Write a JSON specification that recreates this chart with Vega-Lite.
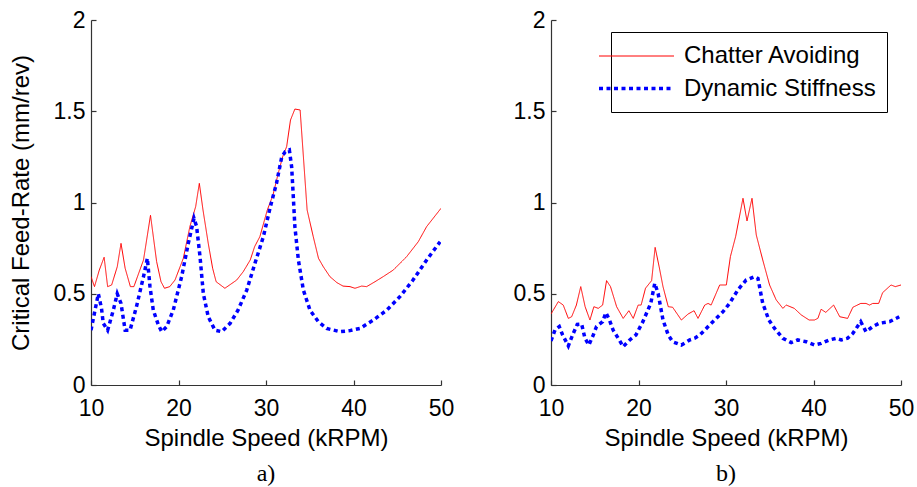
{
  "$schema": "https://vega.github.io/schema/vega-lite/v6.json",
  "background": "white",
  "padding": {"left": 9, "top": 9, "right": 5, "bottom": 0},
  "config": {
    "font": "Liberation Sans",
    "view": {"stroke": null},
    "axis": {"domainColor": "#333333", "domainWidth": 1.2, "tickColor": "#333333", "tickWidth": 1.2, "tickSize": -5, "grid": false, "labelFont": "Liberation Sans", "labelFontSize": 23, "labelColor": "black", "titleFont": "Liberation Sans", "titleFontSize": 24, "titleFontWeight": "normal", "titleColor": "black", "labelFlush": false},
    "axisX": {"labelPadding": 17, "titlePadding": 6},
    "axisY": {"labelPadding": 11, "titlePadding": 20},
    "legend": {"orient": "none", "legendX": 60, "legendY": 12, "title": null, "symbolType": "M-3,0H3", "symbolSize": 625, "labelFontSize": 24, "labelFont": "Liberation Sans", "labelColor": "black", "labelLimit": 400, "strokeColor": "black", "fillColor": "white", "padding": 11, "labelOffset": 33, "rowPadding": 6},
    "title": {"font": "Liberation Serif", "fontSize": 24, "fontWeight": "normal", "color": "black", "orient": "bottom"}
  },
  "datasets": {
    "d": [
      {"p":"a","s":"Chatter Avoiding","x":10,"y":0.594},{"p":"a","s":"Chatter Avoiding","x":10.4,"y":0.539},{"p":"a","s":"Chatter Avoiding","x":10.95,"y":0.63},{"p":"a","s":"Chatter Avoiding","x":11.5,"y":0.70},{"p":"a","s":"Chatter Avoiding","x":11.9,"y":0.539},{"p":"a","s":"Chatter Avoiding","x":12.36,"y":0.548},{"p":"a","s":"Chatter Avoiding","x":13.0,"y":0.648},{"p":"a","s":"Chatter Avoiding","x":13.43,"y":0.776},{"p":"a","s":"Chatter Avoiding","x":13.9,"y":0.64},{"p":"a","s":"Chatter Avoiding","x":14.5,"y":0.539},{"p":"a","s":"Chatter Avoiding","x":14.9,"y":0.539},{"p":"a","s":"Chatter Avoiding","x":16.0,"y":0.685},{"p":"a","s":"Chatter Avoiding","x":16.8,"y":0.93},{"p":"a","s":"Chatter Avoiding","x":17.5,"y":0.676},{"p":"a","s":"Chatter Avoiding","x":18.0,"y":0.566},{"p":"a","s":"Chatter Avoiding","x":18.4,"y":0.53},{"p":"a","s":"Chatter Avoiding","x":19.0,"y":0.539},{"p":"a","s":"Chatter Avoiding","x":19.6,"y":0.575},{"p":"a","s":"Chatter Avoiding","x":20.55,"y":0.694},{"p":"a","s":"Chatter Avoiding","x":21.3,"y":0.868},{"p":"a","s":"Chatter Avoiding","x":21.96,"y":0.977},{"p":"a","s":"Chatter Avoiding","x":22.38,"y":1.105},{"p":"a","s":"Chatter Avoiding","x":22.8,"y":0.959},{"p":"a","s":"Chatter Avoiding","x":23.4,"y":0.776},{"p":"a","s":"Chatter Avoiding","x":23.9,"y":0.64},{"p":"a","s":"Chatter Avoiding","x":24.3,"y":0.566},{"p":"a","s":"Chatter Avoiding","x":25.3,"y":0.53},{"p":"a","s":"Chatter Avoiding","x":26.65,"y":0.575},{"p":"a","s":"Chatter Avoiding","x":27.4,"y":0.621},{"p":"a","s":"Chatter Avoiding","x":28.2,"y":0.685},{"p":"a","s":"Chatter Avoiding","x":28.7,"y":0.758},{"p":"a","s":"Chatter Avoiding","x":29.3,"y":0.813},{"p":"a","s":"Chatter Avoiding","x":30.15,"y":0.959},{"p":"a","s":"Chatter Avoiding","x":30.8,"y":1.041},{"p":"a","s":"Chatter Avoiding","x":31.4,"y":1.16},{"p":"a","s":"Chatter Avoiding","x":31.9,"y":1.25},{"p":"a","s":"Chatter Avoiding","x":32.36,"y":1.306},{"p":"a","s":"Chatter Avoiding","x":32.8,"y":1.452},{"p":"a","s":"Chatter Avoiding","x":33.3,"y":1.512},{"p":"a","s":"Chatter Avoiding","x":33.9,"y":1.507},{"p":"a","s":"Chatter Avoiding","x":34.3,"y":1.233},{"p":"a","s":"Chatter Avoiding","x":34.7,"y":0.959},{"p":"a","s":"Chatter Avoiding","x":35.4,"y":0.813},{"p":"a","s":"Chatter Avoiding","x":36.0,"y":0.694},{"p":"a","s":"Chatter Avoiding","x":36.55,"y":0.648},{"p":"a","s":"Chatter Avoiding","x":37.3,"y":0.594},{"p":"a","s":"Chatter Avoiding","x":38.1,"y":0.561},{"p":"a","s":"Chatter Avoiding","x":38.8,"y":0.542},{"p":"a","s":"Chatter Avoiding","x":39.6,"y":0.539},{"p":"a","s":"Chatter Avoiding","x":40.17,"y":0.53},{"p":"a","s":"Chatter Avoiding","x":40.93,"y":0.542},{"p":"a","s":"Chatter Avoiding","x":41.5,"y":0.539},{"p":"a","s":"Chatter Avoiding","x":42.46,"y":0.566},{"p":"a","s":"Chatter Avoiding","x":43.4,"y":0.594},{"p":"a","s":"Chatter Avoiding","x":44.55,"y":0.63},{"p":"a","s":"Chatter Avoiding","x":46.07,"y":0.703},{"p":"a","s":"Chatter Avoiding","x":47.4,"y":0.785},{"p":"a","s":"Chatter Avoiding","x":48.36,"y":0.868},{"p":"a","s":"Chatter Avoiding","x":50,"y":0.968},
      {"p":"a","s":"Dynamic Stiffness","x":10,"y":0.30},{"p":"a","s":"Dynamic Stiffness","x":10.46,"y":0.41},{"p":"a","s":"Dynamic Stiffness","x":10.84,"y":0.50},{"p":"a","s":"Dynamic Stiffness","x":11.2,"y":0.42},{"p":"a","s":"Dynamic Stiffness","x":11.4,"y":0.338},{"p":"a","s":"Dynamic Stiffness","x":11.9,"y":0.30},{"p":"a","s":"Dynamic Stiffness","x":12.55,"y":0.41},{"p":"a","s":"Dynamic Stiffness","x":13.0,"y":0.50},{"p":"a","s":"Dynamic Stiffness","x":13.43,"y":0.447},{"p":"a","s":"Dynamic Stiffness","x":13.9,"y":0.30},{"p":"a","s":"Dynamic Stiffness","x":14.46,"y":0.30},{"p":"a","s":"Dynamic Stiffness","x":15.2,"y":0.43},{"p":"a","s":"Dynamic Stiffness","x":16.0,"y":0.594},{"p":"a","s":"Dynamic Stiffness","x":16.44,"y":0.694},{"p":"a","s":"Dynamic Stiffness","x":16.74,"y":0.539},{"p":"a","s":"Dynamic Stiffness","x":17.12,"y":0.41},{"p":"a","s":"Dynamic Stiffness","x":17.7,"y":0.329},{"p":"a","s":"Dynamic Stiffness","x":18.08,"y":0.292},{"p":"a","s":"Dynamic Stiffness","x":18.65,"y":0.32},{"p":"a","s":"Dynamic Stiffness","x":19.4,"y":0.41},{"p":"a","s":"Dynamic Stiffness","x":20.36,"y":0.594},{"p":"a","s":"Dynamic Stiffness","x":21.12,"y":0.776},{"p":"a","s":"Dynamic Stiffness","x":21.77,"y":0.913},{"p":"a","s":"Dynamic Stiffness","x":22.07,"y":0.868},{"p":"a","s":"Dynamic Stiffness","x":22.46,"y":0.703},{"p":"a","s":"Dynamic Stiffness","x":22.84,"y":0.50},{"p":"a","s":"Dynamic Stiffness","x":23.4,"y":0.374},{"p":"a","s":"Dynamic Stiffness","x":24.17,"y":0.30},{"p":"a","s":"Dynamic Stiffness","x":24.93,"y":0.292},{"p":"a","s":"Dynamic Stiffness","x":25.9,"y":0.338},{"p":"a","s":"Dynamic Stiffness","x":26.8,"y":0.41},{"p":"a","s":"Dynamic Stiffness","x":27.8,"y":0.52},{"p":"a","s":"Dynamic Stiffness","x":28.74,"y":0.667},{"p":"a","s":"Dynamic Stiffness","x":29.7,"y":0.813},{"p":"a","s":"Dynamic Stiffness","x":30.5,"y":0.977},{"p":"a","s":"Dynamic Stiffness","x":31.2,"y":1.105},{"p":"a","s":"Dynamic Stiffness","x":31.8,"y":1.25},{"p":"a","s":"Dynamic Stiffness","x":32.2,"y":1.278},{"p":"a","s":"Dynamic Stiffness","x":32.67,"y":1.288},{"p":"a","s":"Dynamic Stiffness","x":32.93,"y":1.196},{"p":"a","s":"Dynamic Stiffness","x":33.1,"y":1.05},{"p":"a","s":"Dynamic Stiffness","x":33.3,"y":0.868},{"p":"a","s":"Dynamic Stiffness","x":33.7,"y":0.685},{"p":"a","s":"Dynamic Stiffness","x":34.27,"y":0.52},{"p":"a","s":"Dynamic Stiffness","x":35.03,"y":0.41},{"p":"a","s":"Dynamic Stiffness","x":35.98,"y":0.347},{"p":"a","s":"Dynamic Stiffness","x":36.93,"y":0.31},{"p":"a","s":"Dynamic Stiffness","x":38.46,"y":0.292},{"p":"a","s":"Dynamic Stiffness","x":39.6,"y":0.298},{"p":"a","s":"Dynamic Stiffness","x":40.74,"y":0.31},{"p":"a","s":"Dynamic Stiffness","x":42.27,"y":0.356},{"p":"a","s":"Dynamic Stiffness","x":43.8,"y":0.41},{"p":"a","s":"Dynamic Stiffness","x":45.3,"y":0.484},{"p":"a","s":"Dynamic Stiffness","x":46.8,"y":0.575},{"p":"a","s":"Dynamic Stiffness","x":48.36,"y":0.685},{"p":"a","s":"Dynamic Stiffness","x":49.9,"y":0.785},
      {"p":"b","s":"Chatter Avoiding","x":10,"y":0.389},{"p":"b","s":"Chatter Avoiding","x":10.84,"y":0.457},{"p":"b","s":"Chatter Avoiding","x":11.4,"y":0.438},{"p":"b","s":"Chatter Avoiding","x":11.98,"y":0.365},{"p":"b","s":"Chatter Avoiding","x":12.36,"y":0.374},{"p":"b","s":"Chatter Avoiding","x":12.9,"y":0.438},{"p":"b","s":"Chatter Avoiding","x":13.4,"y":0.539},{"p":"b","s":"Chatter Avoiding","x":13.9,"y":0.429},{"p":"b","s":"Chatter Avoiding","x":14.45,"y":0.356},{"p":"b","s":"Chatter Avoiding","x":14.9,"y":0.429},{"p":"b","s":"Chatter Avoiding","x":15.4,"y":0.42},{"p":"b","s":"Chatter Avoiding","x":15.9,"y":0.438},{"p":"b","s":"Chatter Avoiding","x":16.35,"y":0.572},{"p":"b","s":"Chatter Avoiding","x":16.8,"y":0.539},{"p":"b","s":"Chatter Avoiding","x":17.5,"y":0.429},{"p":"b","s":"Chatter Avoiding","x":18.25,"y":0.365},{"p":"b","s":"Chatter Avoiding","x":18.9,"y":0.407},{"p":"b","s":"Chatter Avoiding","x":19.4,"y":0.365},{"p":"b","s":"Chatter Avoiding","x":19.96,"y":0.438},{"p":"b","s":"Chatter Avoiding","x":20.3,"y":0.438},{"p":"b","s":"Chatter Avoiding","x":20.8,"y":0.53},{"p":"b","s":"Chatter Avoiding","x":21.5,"y":0.572},{"p":"b","s":"Chatter Avoiding","x":21.9,"y":0.754},{"p":"b","s":"Chatter Avoiding","x":22.36,"y":0.648},{"p":"b","s":"Chatter Avoiding","x":22.8,"y":0.539},{"p":"b","s":"Chatter Avoiding","x":23.4,"y":0.429},{"p":"b","s":"Chatter Avoiding","x":23.9,"y":0.426},{"p":"b","s":"Chatter Avoiding","x":24.9,"y":0.356},{"p":"b","s":"Chatter Avoiding","x":25.67,"y":0.389},{"p":"b","s":"Chatter Avoiding","x":26.35,"y":0.407},{"p":"b","s":"Chatter Avoiding","x":26.8,"y":0.365},{"p":"b","s":"Chatter Avoiding","x":27.57,"y":0.438},{"p":"b","s":"Chatter Avoiding","x":27.95,"y":0.447},{"p":"b","s":"Chatter Avoiding","x":28.3,"y":0.438},{"p":"b","s":"Chatter Avoiding","x":29.28,"y":0.548},{"p":"b","s":"Chatter Avoiding","x":30.04,"y":0.548},{"p":"b","s":"Chatter Avoiding","x":30.5,"y":0.703},{"p":"b","s":"Chatter Avoiding","x":31.1,"y":0.813},{"p":"b","s":"Chatter Avoiding","x":31.94,"y":1.023},{"p":"b","s":"Chatter Avoiding","x":32.4,"y":0.899},{"p":"b","s":"Chatter Avoiding","x":32.97,"y":1.023},{"p":"b","s":"Chatter Avoiding","x":33.46,"y":0.822},{"p":"b","s":"Chatter Avoiding","x":34.2,"y":0.685},{"p":"b","s":"Chatter Avoiding","x":34.98,"y":0.548},{"p":"b","s":"Chatter Avoiding","x":35.74,"y":0.466},{"p":"b","s":"Chatter Avoiding","x":36.5,"y":0.42},{"p":"b","s":"Chatter Avoiding","x":36.88,"y":0.438},{"p":"b","s":"Chatter Avoiding","x":37.8,"y":0.42},{"p":"b","s":"Chatter Avoiding","x":38.6,"y":0.384},{"p":"b","s":"Chatter Avoiding","x":39.5,"y":0.356},{"p":"b","s":"Chatter Avoiding","x":40.1,"y":0.356},{"p":"b","s":"Chatter Avoiding","x":40.5,"y":0.365},{"p":"b","s":"Chatter Avoiding","x":40.87,"y":0.415},{"p":"b","s":"Chatter Avoiding","x":41.4,"y":0.398},{"p":"b","s":"Chatter Avoiding","x":42.3,"y":0.438},{"p":"b","s":"Chatter Avoiding","x":43.0,"y":0.374},{"p":"b","s":"Chatter Avoiding","x":43.9,"y":0.365},{"p":"b","s":"Chatter Avoiding","x":44.5,"y":0.426},{"p":"b","s":"Chatter Avoiding","x":45.4,"y":0.447},{"p":"b","s":"Chatter Avoiding","x":46.0,"y":0.447},{"p":"b","s":"Chatter Avoiding","x":46.4,"y":0.438},{"p":"b","s":"Chatter Avoiding","x":46.77,"y":0.447},{"p":"b","s":"Chatter Avoiding","x":47.45,"y":0.447},{"p":"b","s":"Chatter Avoiding","x":47.9,"y":0.506},{"p":"b","s":"Chatter Avoiding","x":48.86,"y":0.548},{"p":"b","s":"Chatter Avoiding","x":49.35,"y":0.539},{"p":"b","s":"Chatter Avoiding","x":50,"y":0.548},
      {"p":"b","s":"Dynamic Stiffness","x":10,"y":0.241},{"p":"b","s":"Dynamic Stiffness","x":10.46,"y":0.301},{"p":"b","s":"Dynamic Stiffness","x":10.95,"y":0.32},{"p":"b","s":"Dynamic Stiffness","x":11.33,"y":0.274},{"p":"b","s":"Dynamic Stiffness","x":11.98,"y":0.214},{"p":"b","s":"Dynamic Stiffness","x":12.47,"y":0.274},{"p":"b","s":"Dynamic Stiffness","x":13.0,"y":0.332},{"p":"b","s":"Dynamic Stiffness","x":13.5,"y":0.334},{"p":"b","s":"Dynamic Stiffness","x":13.88,"y":0.256},{"p":"b","s":"Dynamic Stiffness","x":14.33,"y":0.219},{"p":"b","s":"Dynamic Stiffness","x":14.83,"y":0.274},{"p":"b","s":"Dynamic Stiffness","x":15.2,"y":0.32},{"p":"b","s":"Dynamic Stiffness","x":15.9,"y":0.347},{"p":"b","s":"Dynamic Stiffness","x":16.27,"y":0.396},{"p":"b","s":"Dynamic Stiffness","x":16.65,"y":0.36},{"p":"b","s":"Dynamic Stiffness","x":17.1,"y":0.301},{"p":"b","s":"Dynamic Stiffness","x":17.8,"y":0.247},{"p":"b","s":"Dynamic Stiffness","x":18.25,"y":0.21},{"p":"b","s":"Dynamic Stiffness","x":19.0,"y":0.247},{"p":"b","s":"Dynamic Stiffness","x":19.7,"y":0.274},{"p":"b","s":"Dynamic Stiffness","x":20.5,"y":0.347},{"p":"b","s":"Dynamic Stiffness","x":21.4,"y":0.447},{"p":"b","s":"Dynamic Stiffness","x":21.86,"y":0.557},{"p":"b","s":"Dynamic Stiffness","x":22.24,"y":0.502},{"p":"b","s":"Dynamic Stiffness","x":22.8,"y":0.356},{"p":"b","s":"Dynamic Stiffness","x":23.4,"y":0.274},{"p":"b","s":"Dynamic Stiffness","x":23.9,"y":0.237},{"p":"b","s":"Dynamic Stiffness","x":24.9,"y":0.219},{"p":"b","s":"Dynamic Stiffness","x":25.86,"y":0.247},{"p":"b","s":"Dynamic Stiffness","x":26.43,"y":0.256},{"p":"b","s":"Dynamic Stiffness","x":27.0,"y":0.274},{"p":"b","s":"Dynamic Stiffness","x":27.57,"y":0.301},{"p":"b","s":"Dynamic Stiffness","x":28.5,"y":0.347},{"p":"b","s":"Dynamic Stiffness","x":29.66,"y":0.402},{"p":"b","s":"Dynamic Stiffness","x":30.4,"y":0.447},{"p":"b","s":"Dynamic Stiffness","x":31.4,"y":0.524},{"p":"b","s":"Dynamic Stiffness","x":32.3,"y":0.575},{"p":"b","s":"Dynamic Stiffness","x":33.27,"y":0.594},{"p":"b","s":"Dynamic Stiffness","x":33.65,"y":0.584},{"p":"b","s":"Dynamic Stiffness","x":34.2,"y":0.447},{"p":"b","s":"Dynamic Stiffness","x":34.9,"y":0.356},{"p":"b","s":"Dynamic Stiffness","x":35.55,"y":0.31},{"p":"b","s":"Dynamic Stiffness","x":36.5,"y":0.256},{"p":"b","s":"Dynamic Stiffness","x":37.45,"y":0.232},{"p":"b","s":"Dynamic Stiffness","x":38.2,"y":0.247},{"p":"b","s":"Dynamic Stiffness","x":39.16,"y":0.237},{"p":"b","s":"Dynamic Stiffness","x":40.1,"y":0.219},{"p":"b","s":"Dynamic Stiffness","x":40.87,"y":0.228},{"p":"b","s":"Dynamic Stiffness","x":41.8,"y":0.247},{"p":"b","s":"Dynamic Stiffness","x":42.6,"y":0.256},{"p":"b","s":"Dynamic Stiffness","x":43.16,"y":0.247},{"p":"b","s":"Dynamic Stiffness","x":43.9,"y":0.256},{"p":"b","s":"Dynamic Stiffness","x":44.5,"y":0.283},{"p":"b","s":"Dynamic Stiffness","x":45.4,"y":0.347},{"p":"b","s":"Dynamic Stiffness","x":46.0,"y":0.292},{"p":"b","s":"Dynamic Stiffness","x":46.77,"y":0.32},{"p":"b","s":"Dynamic Stiffness","x":47.5,"y":0.338},{"p":"b","s":"Dynamic Stiffness","x":48.7,"y":0.347},{"p":"b","s":"Dynamic Stiffness","x":49.8,"y":0.374}
    ]
  },
  "bounds": "flush",
  "spacing": 110,
  "resolve": {"scale": {"color": "independent", "strokeDash": "independent", "strokeWidth": "independent"}},
  "hconcat": [
    {
      "width": 350, "height": 365,
      "data": {"name": "d"},
      "transform": [{"filter": "datum.p == 'a'"}],
      "title": {"text": "a)", "offset": 12},
      "mark": {"type": "line", "clip": true, "strokeCap": "butt"},
      "encoding": {
        "x": {"field": "x", "type": "quantitative", "scale": {"domain": [10, 50], "nice": false}, "axis": {"values": [10, 20, 30, 40, 50], "title": "Spindle Speed (kRPM)"}},
        "y": {"field": "y", "type": "quantitative", "scale": {"domain": [0, 2], "nice": false}, "axis": {"values": [0, 0.5, 1, 1.5, 2], "format": "~g", "title": "Critical Feed-Rate (mm/rev)"}},
        "color": {"field": "s", "type": "nominal", "scale": {"domain": ["Chatter Avoiding", "Dynamic Stiffness"], "range": ["#ff0000", "#0000ff"]}, "legend": null},
        "strokeDash": {"field": "s", "type": "nominal", "scale": {"domain": ["Chatter Avoiding", "Dynamic Stiffness"], "range": [[1, 0], [4, 3.5]]}, "legend": null},
        "strokeWidth": {"field": "s", "type": "nominal", "scale": {"domain": ["Chatter Avoiding", "Dynamic Stiffness"], "range": [1, 3.5]}, "legend": null}
      }
    },
    {
      "width": 350, "height": 365,
      "data": {"name": "d"},
      "transform": [{"filter": "datum.p == 'b'"}],
      "title": {"text": "b)", "offset": 12},
      "mark": {"type": "line", "clip": true, "strokeCap": "butt"},
      "encoding": {
        "x": {"field": "x", "type": "quantitative", "scale": {"domain": [10, 50], "nice": false}, "axis": {"values": [10, 20, 30, 40, 50], "title": "Spindle Speed (kRPM)"}},
        "y": {"field": "y", "type": "quantitative", "scale": {"domain": [0, 2], "nice": false}, "axis": {"values": [0, 0.5, 1, 1.5, 2], "format": "~g", "title": null}},
        "color": {"field": "s", "type": "nominal", "scale": {"domain": ["Chatter Avoiding", "Dynamic Stiffness"], "range": ["#ff0000", "#0000ff"]}},
        "strokeDash": {"field": "s", "type": "nominal", "scale": {"domain": ["Chatter Avoiding", "Dynamic Stiffness"], "range": [[1, 0], [4, 3.5]]}},
        "strokeWidth": {"field": "s", "type": "nominal", "scale": {"domain": ["Chatter Avoiding", "Dynamic Stiffness"], "range": [1, 3.5]}}
      }
    }
  ]
}
